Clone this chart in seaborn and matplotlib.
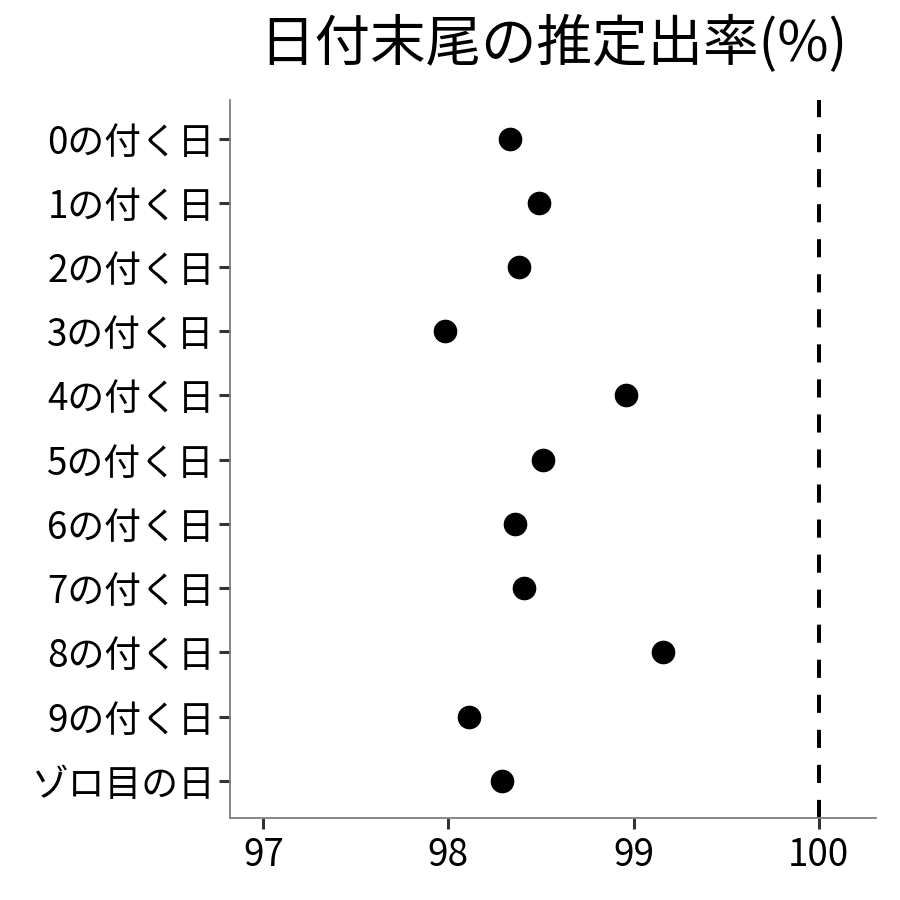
import matplotlib
matplotlib.use("Agg")
import matplotlib.pyplot as plt
import seaborn as sns
import pandas as pd

categories = ["0の付く日", "1の付く日", "2の付く日", "3の付く日", "4の付く日",
              "5の付く日", "6の付く日", "7の付く日", "8の付く日", "9の付く日", "ゾロ目の日"]
rates = [98.335, 98.49, 98.38, 97.98, 98.96, 98.51, 98.36, 98.41, 99.16, 98.11, 98.29]
x_ticks = [97, 98, 99, 100]
ref_line = 100
title = "日付末尾の推定出率(%)"

sns.set_theme(style="white")
plt.rcParams['font.family'] = ['Noto Sans CJK JP', 'DejaVu Sans']

df = pd.DataFrame({"category": categories, "rate": rates})

fig = plt.figure(figsize=(9, 9), dpi=100)
ax = fig.add_axes([230/900, 1 - 818/900, (876-230)/900, (818-100)/900])

sns.scatterplot(data=df, x="rate", y="category", ax=ax, color="black", s=290,
                edgecolor="black", linewidth=0, zorder=3)
ax.axvline(ref_line, color="black", linestyle=(0, (4.5, 4.2)), linewidth=2.9, zorder=2)

ax.set_xlim(96.82, 100.31)
ax.set_ylim(len(categories) - 1 + 0.58, -0.6)
ax.set_xticks(x_ticks)
ax.set_xticklabels([str(t) for t in x_ticks])
ax.set_xlabel("")
ax.set_ylabel("")

for side in ["top", "right"]:
    ax.spines[side].set_visible(False)
for side in ["left", "bottom"]:
    ax.spines[side].set_color("#7f7f7f")
    ax.spines[side].set_linewidth(1.3)

ax.tick_params(axis="both", which="major", length=8, width=2.2, color="#333333",
               labelsize=26.5, labelcolor="black", pad=3, direction="out")
ax.tick_params(axis="x", pad=5)
ax.tick_params(left=True, bottom=True)

fig.text(553/900, 1 - 45/900, title, ha="center", va="center", fontsize=40, color="black")

fig.savefig("out.png", dpi=100)
